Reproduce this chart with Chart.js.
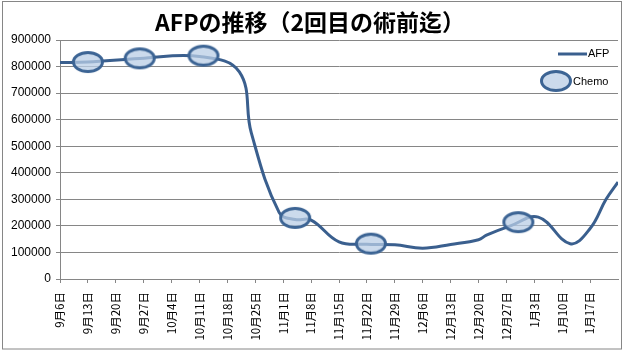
<!DOCTYPE html>
<html lang="ja">
<head>
    <meta charset="UTF-8">
    <title>AFPの推移</title>
    <script src="https://cdn.jsdelivr.net/npm/chart.js"></script>
    <style>
        body {
            margin: 0;
            background: #fff;
        }
        .chart-box {
            position: relative;
            width: 623px;
            height: 354px;
        }
    </style>
</head>
<body>
    <div class="chart-box">
        <canvas id="afpChart"></canvas>
    </div>

    <script>
        // days counted from 9月6日
        const xLabels = ['9月6日', '9月13日', '9月20日', '9月27日', '10月4日', '10月11日', '10月18日',
            '10月25日', '11月1日', '11月8日', '11月15日', '11月22日', '11月29日', '12月6日', '12月13日',
            '12月20日', '12月27日', '1月3日', '1月10日', '1月17日'];
        const yTicks = [0, 100000, 200000, 300000, 400000, 500000, 600000, 700000, 800000, 900000];

        const afpDays = [0, 7, 20, 35, 45, 48, 55, 59, 63, 70, 77, 84, 91, 98, 105, 107, 113, 120, 128, 133, 137, 140];
        const afpValues = [815000, 817000, 830000, 838000, 780000, 550000, 250000, 224000, 222000, 140000, 131000,
            129000, 116000, 130000, 148000, 165000, 200000, 233000, 133000, 190000, 300000, 365000];

        const chemoDays = [7, 20, 36, 59, 78, 115];
        const chemoValues = [817000, 831000, 841000, 230000, 133000, 214000];

        const lineColor = '#3a5f8e';
        const gridColor = '#868686';

        // ellipse marker used for the Chemo series
        function makeEllipse() {
            const c = document.createElement('canvas');
            c.width = 34;
            c.height = 26;
            const g = c.getContext('2d');
            g.beginPath();
            g.ellipse(17, 13, 14.5, 9.5, 0, 0, Math.PI * 2);
            g.fillStyle = 'rgba(185, 205, 229, 0.75)';
            g.fill();
            g.lineWidth = 3;
            g.strokeStyle = '#3c6494';
            g.stroke();
            return c;
        }
        const ellipse = makeEllipse();

        const decor = {
            id: 'decor',
            afterDraw(chart) {
                const ctx = chart.ctx;
                ctx.save();
                // outer frame
                ctx.strokeStyle = gridColor;
                ctx.lineWidth = 1;
                ctx.strokeRect(2.5, 1.5, 619, 347.5);
                // title
                ctx.fillStyle = '#000';
                ctx.font = 'bold 23px "Noto Sans CJK JP"';
                ctx.textAlign = 'center';
                ctx.textBaseline = 'middle';
                ctx.fillText('AFPの推移（2回目の術前迄）', 310, 22);
                // legend
                ctx.font = '11px "Liberation Sans"';
                ctx.textAlign = 'left';
                ctx.strokeStyle = lineColor;
                ctx.lineWidth = 3;
                ctx.beginPath();
                ctx.moveTo(558, 54);
                ctx.lineTo(587, 54);
                ctx.stroke();
                ctx.fillText('AFP', 588, 54);
                ctx.drawImage(ellipse, 556 - 17, 81 - 13);
                ctx.fillText('Chemo', 573, 82);
                ctx.restore();
            }
        };

        new Chart(document.getElementById('afpChart'), {
            type: 'line',
            data: {
                datasets: [{
                    label: 'Chemo',
                    data: chemoDays.map((d, i) => ({ x: d, y: chemoValues[i] })),
                    showLine: false,
                    pointStyle: ellipse,
                    order: 0
                }, {
                    label: 'AFP',
                    data: afpDays.map((d, i) => ({ x: d, y: afpValues[i] })),
                    borderColor: lineColor,
                    borderWidth: 3,
                    pointRadius: 0,
                    tension: 0.4,
                    order: 1
                }]
            },
            options: {
                responsive: true,
                maintainAspectRatio: false,
                animation: false,
                layout: { padding: { top: 40, left: 2, right: 3, bottom: 0 } },
                plugins: {
                    legend: { display: false },
                    tooltip: { enabled: false }
                },
                scales: {
                    x: {
                        type: 'linear',
                        min: 0,
                        max: 140,
                        afterBuildTicks(scale) {
                            scale.ticks = xLabels.map((l, i) => ({ value: i * 7 }));
                        },
                        afterFit(scale) { scale.height = 75; },
                        grid: { drawOnChartArea: false, color: gridColor, tickLength: 4 },
                        border: { color: gridColor },
                        ticks: {
                            autoSkip: false,
                            minRotation: 90,
                            maxRotation: 90,
                            padding: 9,
                            color: '#000',
                            font: { family: 'Noto Sans CJK JP', size: 11.5 },
                            callback: (v) => xLabels[v / 7]
                        }
                    },
                    y: {
                        min: 0,
                        max: 900000,
                        afterBuildTicks(scale) {
                            scale.ticks = yTicks.map(v => ({ value: v }));
                        },
                        afterFit(scale) { scale.width = 58; },
                        grid: { color: gridColor, tickLength: 4 },
                        border: { color: gridColor },
                        ticks: {
                            padding: 5,
                            color: '#000',
                            font: { family: 'Liberation Sans', size: 12 },
                            callback: (v) => String(v)
                        }
                    }
                }
            },
            plugins: [decor]
        });
    </script>
</body>
</html>
